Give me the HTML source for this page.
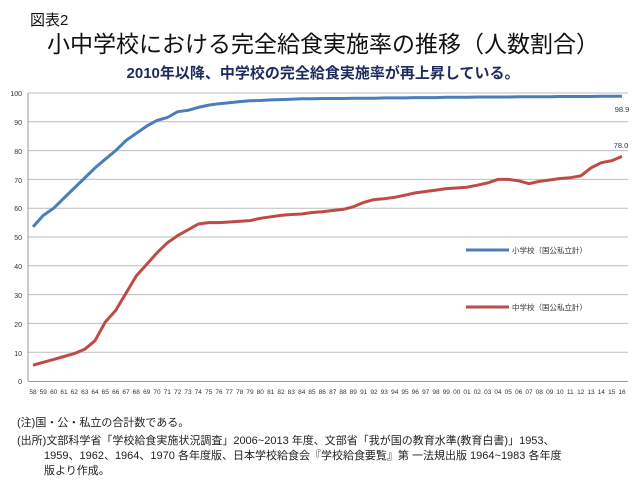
<!DOCTYPE html>
<html><head><meta charset="utf-8"><style>
body{margin:0;background:#fff;}
svg{display:block;font-family:"Liberation Sans","Noto Sans CJK JP",sans-serif;}
</style></head><body>
<svg id="s" width="640" height="480" viewBox="0 0 640 480">
<text x="30" y="25" font-size="15" fill="#111">図表2</text>
<text x="323" y="52" font-size="23" fill="#111" text-anchor="middle">小中学校における完全給食実施率の推移（人数割合）</text>
<text x="323" y="78" font-size="15" font-weight="bold" fill="#1f2a5c" text-anchor="middle">2010年以降、中学校の完全給食実施率が再上昇している。</text>
<g id="grid" stroke="#bdbdbd" stroke-width="1"></g>
<line x1="28" y1="93" x2="28" y2="381" stroke="#999"/>
<line x1="28" y1="381.5" x2="628" y2="381.5" stroke="#999"/>
<g font-size="7" fill="#333" text-anchor="end">
<text x="22" y="96">100</text><text x="22" y="125">90</text><text x="22" y="154">80</text><text x="22" y="183">70</text><text x="22" y="211">60</text><text x="22" y="240">50</text><text x="22" y="269">40</text><text x="22" y="298">30</text><text x="22" y="327">20</text><text x="22" y="356">10</text><text x="22" y="384">0</text>
</g>
<g id="xl" font-size="6.5" fill="#333" text-anchor="middle">
<text y="394">58</text><text y="394">59</text><text y="394">60</text><text y="394">61</text><text y="394">62</text><text y="394">63</text><text y="394">64</text><text y="394">65</text><text y="394">66</text><text y="394">67</text><text y="394">68</text><text y="394">69</text><text y="394">70</text><text y="394">71</text><text y="394">72</text><text y="394">73</text><text y="394">74</text><text y="394">75</text><text y="394">76</text><text y="394">77</text><text y="394">78</text><text y="394">79</text><text y="394">80</text><text y="394">81</text><text y="394">82</text><text y="394">83</text><text y="394">84</text><text y="394">85</text><text y="394">86</text><text y="394">87</text><text y="394">88</text><text y="394">89</text><text y="394">91</text><text y="394">92</text><text y="394">93</text><text y="394">94</text><text y="394">95</text><text y="394">96</text><text y="394">97</text><text y="394">98</text><text y="394">99</text><text y="394">00</text><text y="394">01</text><text y="394">02</text><text y="394">03</text><text y="394">04</text><text y="394">05</text><text y="394">06</text><text y="394">07</text><text y="394">08</text><text y="394">09</text><text y="394">10</text><text y="394">11</text><text y="394">12</text><text y="394">13</text><text y="394">14</text><text y="394">15</text><text y="394">16</text>
</g>
<polyline id="b" fill="none" stroke="#4a7ebb" stroke-width="3" stroke-linejoin="round"/>
<polyline id="r" fill="none" stroke="#be4b48" stroke-width="3" stroke-linejoin="round"/>
<text x="622" y="112" font-size="7.5" fill="#333" text-anchor="middle">98.9</text>
<text x="621" y="148" font-size="7.5" fill="#333" text-anchor="middle">78.0</text>
<line x1="466" y1="250" x2="509" y2="250" stroke="#4a7ebb" stroke-width="3"/>
<text x="512" y="253" font-size="7.5" fill="#333">小学校（国公私立計）</text>
<line x1="466" y1="307" x2="509" y2="307" stroke="#be4b48" stroke-width="3"/>
<text x="512" y="310" font-size="7.5" fill="#333">中学校（国公私立計）</text>
<g font-size="11" fill="#222">
<text x="17" y="426">(注)国・公・私立の合計数である。</text>
<text x="17" y="444">(出所)文部科学省「学校給食実施状況調査」2006~2013 年度、文部省「我が国の教育水準(教育白書)」1953、</text>
<text x="44" y="459">1959、1962、1964、1970 各年度版、日本学校給食会『学校給食要覧』第 一法規出版 1964~1983 各年度</text>
<text x="44" y="474">版より作成。</text>
</g>
</svg>
<script>
var g=document.getElementById('grid');
for(var v=10;v<=100;v+=10){var y=381-v*2.88;var l=document.createElementNS('http://www.w3.org/2000/svg','line');l.setAttribute('x1',28);l.setAttribute('x2',628);l.setAttribute('y1',y);l.setAttribute('y2',y);g.appendChild(l);}
var st=(622-33)/57;
var t=document.getElementById('xl').children;
for(var i=0;i<t.length;i++)t[i].setAttribute('x',(33+i*st).toFixed(1));
var B=[53.5,57.5,60,63.5,67,70.5,74,77,80,83.5,86,88.5,90.5,91.5,93.5,94,95,95.8,96.3,96.6,97,97.3,97.4,97.6,97.7,97.8,98,98,98.1,98.1,98.1,98.2,98.2,98.2,98.3,98.3,98.3,98.4,98.4,98.4,98.5,98.5,98.5,98.6,98.6,98.6,98.6,98.7,98.7,98.7,98.7,98.8,98.8,98.8,98.8,98.9,98.9,98.9];
var R=[5.5,6.5,7.5,8.5,9.5,11,14,20.5,24.5,30.5,36.5,40.5,44.5,48,50.5,52.5,54.5,55,55,55.2,55.5,55.7,56.5,57,57.5,57.8,58,58.5,58.8,59.2,59.6,60.5,62,63,63.3,63.8,64.5,65.3,65.8,66.3,66.8,67,67.3,68,68.8,70,70,69.5,68.5,69.3,69.8,70.3,70.6,71.2,74,75.8,76.5,78];
function pts(a){return a.map(function(v,i){return (33+i*st).toFixed(1)+','+(381-v*2.88).toFixed(1)}).join(' ');}
document.getElementById('b').setAttribute('points',pts(B));
document.getElementById('r').setAttribute('points',pts(R));
</script>
</body></html>
